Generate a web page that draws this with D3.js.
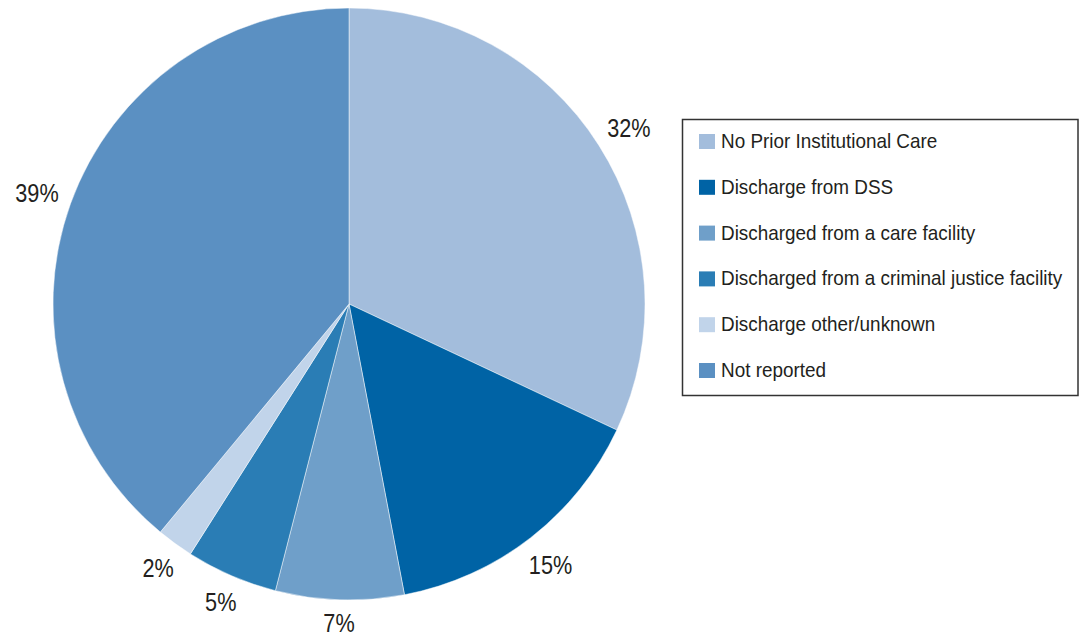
<!DOCTYPE html>
<html>
<head>
<meta charset="utf-8">
<script src="https://cdn.jsdelivr.net/npm/d3@7"></script>
<style>
  html, body { margin: 0; padding: 0; background: #ffffff; }
  svg { display: block; }
  text { font-family: "Liberation Sans", Arial, sans-serif; fill: #231f20; }
</style>
</head>
<body>
<svg id="chart" width="1079" height="634"></svg>
<script>
// Share of clients by prior living situation
const categories = [
  "No Prior Institutional Care",
  "Discharge from DSS",
  "Discharged from a care facility",
  "Discharged from a criminal justice facility",
  "Discharge other/unknown",
  "Not reported"
];
const shares = [32, 15, 7, 5, 2, 39];
const colors = ["#a3bddc", "#0063a5", "#6f9fc9", "#2a7db5", "#c1d4ea", "#5b90c2"];

const svg = d3.select("#chart");
const cx = 349, cy = 304, radius = 296;
const labelGap = 12;      // distance between pie edge and nearest side of a label
const labelScaleX = 0.85; // condensed look for the percentage labels
const legendScaleX = 0.97;

const data = categories.map((c, i) => ({ name: c, value: shares[i], color: colors[i] }));

const pie = d3.pie().value(d => d.value).sort(null);
const arc = d3.arc().innerRadius(0).outerRadius(radius);

const g = svg.append("g").attr("transform", `translate(${cx},${cy})`);
const arcs = pie(data);

g.selectAll("path.slice")
  .data(arcs)
  .enter().append("path")
  .attr("class", "slice")
  .attr("d", arc)
  .attr("fill", d => d.data.color)
  .attr("stroke", "#ffffff")
  .attr("stroke-opacity", 0.6)
  .attr("stroke-width", 0.8);

// Percentage labels sit just outside the rim, pushed out by their own half-extent
g.selectAll("g.pct")
  .data(arcs)
  .enter().append("g")
  .attr("class", "pct")
  .each(function (d) {
    const grp = d3.select(this);
    const t = grp.append("text")
      .attr("text-anchor", "middle")
      .attr("dominant-baseline", "central")
      .attr("dy", 1.5)
      .attr("transform", `scale(${labelScaleX},1)`)
      .style("font-size", "25.5px")
      .text(d.data.value + "%");
    const bb = t.node().getBBox();
    const hw = bb.width * labelScaleX / 2, hh = 9.5;
    const a = (d.startAngle + d.endAngle) / 2;
    const s = Math.sin(a), c = -Math.cos(a);
    const r = radius + labelGap + Math.abs(s) * hw + Math.abs(c) * hh;
    grp.attr("transform", `translate(${r * s},${r * c})`);
  });

// Legend
const legend = svg.append("g");
legend.append("rect")
  .attr("x", 682.5).attr("y", 119.5)
  .attr("width", 395.5).attr("height", 276)
  .attr("fill", "#ffffff")
  .attr("stroke", "#333333")
  .attr("stroke-width", 1.5);

const rowY = d3.scalePoint().domain(categories).range([141.5, 370.5]);

const items = legend.selectAll("g.item")
  .data(data)
  .enter().append("g")
  .attr("class", "item")
  .attr("transform", d => `translate(0,${rowY(d.name)})`);

items.append("rect")
  .attr("x", 699).attr("y", -7.5)
  .attr("width", 16).attr("height", 15)
  .attr("fill", d => d.color);

items.append("text")
  .attr("transform", `translate(721,0) scale(${legendScaleX},1)`)
  .attr("dominant-baseline", "central")
  .style("font-size", "19.5px")
  .text(d => d.name);
</script>
</body>
</html>
